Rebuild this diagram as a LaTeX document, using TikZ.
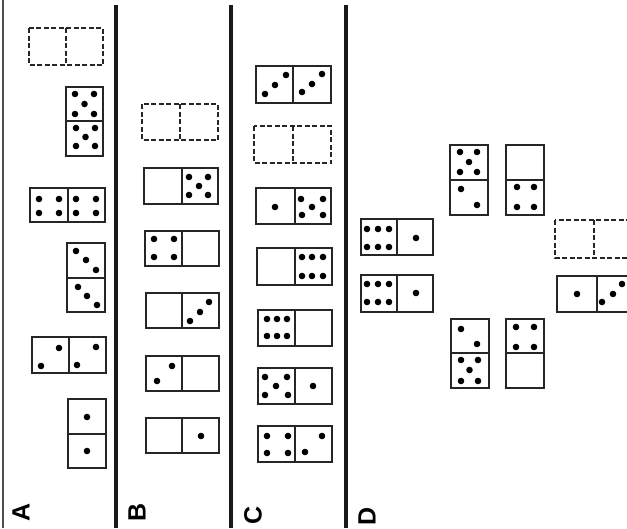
\documentclass[tikz,border=0pt]{standalone}
\usepackage{fontspec}
\setsansfont{Liberation Sans}
\newcommand\hdom[6][dom]{\draw[#1] (#2,#3) rectangle (#4,#5); \draw[#1] (#6,#3) -- (#6,#5);}
\newcommand\vdom[6][dom]{\draw[#1] (#2,#3) rectangle (#4,#5); \draw[#1] (#2,#6) -- (#4,#6);}
\newcommand\pips[1]{\foreach \p in {#1} \fill \p circle (3.3);}
\begin{document}
\begin{tikzpicture}[x=1pt,y=-1pt,
  dom/.style={line width=1.7pt,draw=black!85},
  ghost/.style={line width=2.3pt,draw=black!85,dash pattern=on 5pt off 2.5pt},
  sep/.style={line width=3.6pt,black!90},
  lbl/.style={font=\sffamily\bfseries\fontsize{25}{25}\selectfont,rotate=90,inner sep=0pt}]
\useasboundingbox[fill=white] (0,0) rectangle (627,528);
% separators
\draw[line width=1.6pt,black!70] (3,0) -- (3,528);
\draw[sep] (116,5) -- (116,528);
\draw[sep] (231,5) -- (231,528);
\draw[sep] (346,5) -- (346,528);
% labels
\node[lbl] (la) at (21,512) {A};
\node[lbl] (lb) at (137,512) {B};
\node[lbl] (lc) at (253,515) {C};
\node[lbl] (ld) at (367,516) {D};
% ---- A ----
\hdom[ghost]{29}{28}{103}{65}{66}
\vdom{66}{87}{103}{156}{121}
\pips{(75,94),(94,94),(84.5,104),(75,114),(94,114),(76,128),(95,128),(85.5,137),(76,146),(95,146)}
\hdom{30}{188}{105}{222}{68}
\pips{(39,199),(59,199),(39,213),(59,213),(76,199),(96,199),(76,213),(96,213)}
\vdom{67}{243}{105}{312}{278}
\pips{(76,251),(86,260),(96,270),(78,287),(87,296),(97,305)}
\hdom{32}{337}{106}{373}{69}
\pips{(41,366),(59,348),(77,365),(96,347)}
\vdom{68}{399}{106}{468}{434}
\pips{(87,417),(87,451)}
% ---- B ----
\hdom[ghost]{142}{104}{218}{140}{180}
\hdom{144}{168}{218}{204}{182}
\pips{(189,177),(208,177),(199,186),(189,195),(208,195)}
\hdom{145}{231}{219}{266}{182}
\pips{(154,239),(174,239),(154,257),(174,257)}
\hdom{146}{293}{219}{328}{182}
\pips{(190,321),(200,312),(209,302)}
\hdom{146}{356}{219}{391}{182}
\pips{(157,381),(172,366)}
\hdom{146}{418}{219}{453}{182}
\pips{(201,436)}
% ---- C ----
\hdom{256}{66}{331}{103}{293}
\pips{(265,94),(275,85),(286,75),(302,92),(312,84),(322,74)}
\hdom[ghost]{254}{126}{331}{163}{293}
\hdom{256}{188}{331}{224}{295}
\pips{(275,207),(301,199),(323,199),(312,207),(302,215),(323,215)}
\hdom{257}{248}{332}{285}{295}
\pips{(302,257),(312,257),(323,257),(302,276),(312,276),(323,276)}
\hdom{258}{310}{332}{346}{295}
\pips{(267,319),(277,319),(287,319),(267,336),(277,336),(287,336)}
\hdom{258}{368}{332}{404}{295}
\pips{(265,377),(287,377),(276,386),(265,395),(288,395),(313,386)}
\hdom{258}{426}{332}{462}{295}
\pips{(267,436),(288,436),(267,453),(288,453),(305,452),(322,436)}
% ---- D ----
\hdom{361}{219}{433}{255}{397}
\pips{(367,229),(378,229),(389,229),(367,247),(378,247),(389,247),(416,238)}
\hdom{361}{275}{433}{312}{397}
\pips{(367,284),(378,284),(389,284),(367,302),(378,302),(389,302),(416,293)}
\vdom{450}{145}{488}{215}{180}
\pips{(460,152),(477,152),(469,162),(460,172),(477,172),(461,189),(477,205)}
\vdom{506}{145}{544}{215}{180}
\pips{(517,187),(534,187),(517,207),(534,207)}
\vdom{451}{319}{489}{388}{353}
\pips{(461,329),(477,344),(461,360),(478,360),(469.5,370),(461,381),(478,381)}
\vdom{506}{319}{544}{388}{353}
\pips{(516,327),(534,327),(516,347),(534,347)}
\hdom[ghost]{555}{220}{630}{258}{594}
\hdom{557}{276}{630}{312}{597}
\pips{(577,294),(602,302),(613,294),(622,284)}
\end{tikzpicture}
\end{document}
